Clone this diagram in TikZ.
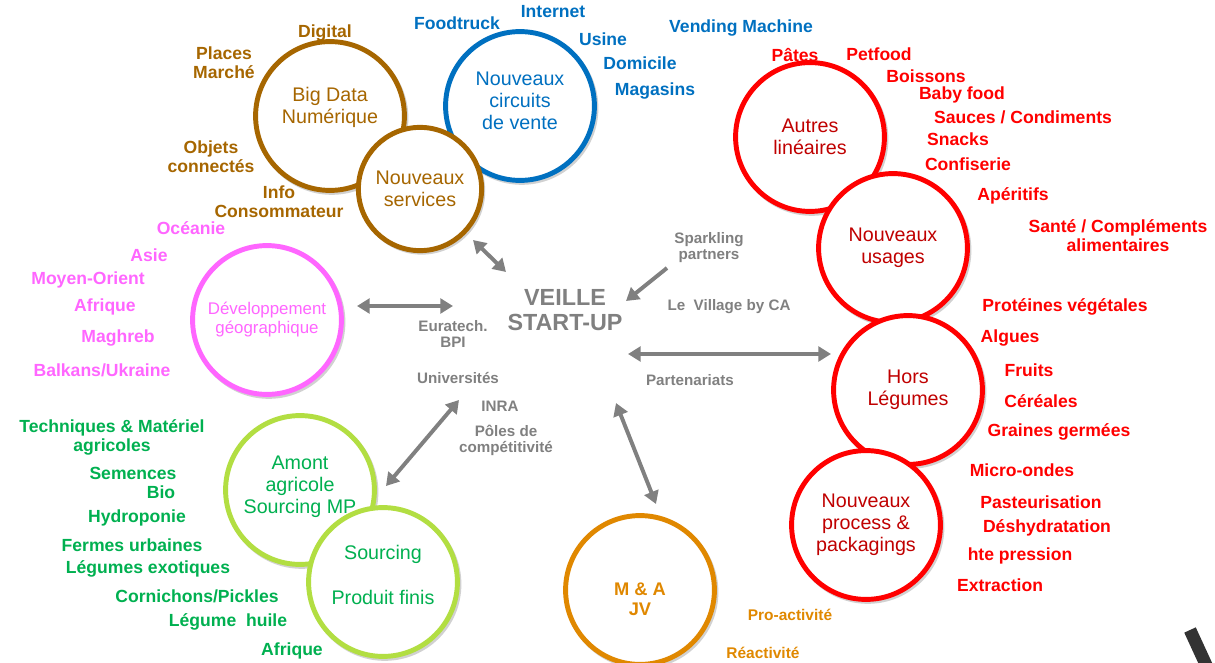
\documentclass[tikz,border=0pt]{standalone}
\usepackage{fontspec}
\setmainfont{Liberation Sans}
\usetikzlibrary{arrows.meta,shadows}
\definecolor{vbrown}{RGB}{166,102,0}
\definecolor{vblue}{RGB}{0,112,192}
\definecolor{vred}{RGB}{255,0,0}
\definecolor{vdarkred}{RGB}{192,0,0}
\definecolor{vpink}{RGB}{255,102,255}
\definecolor{vlime}{RGB}{178,222,66}
\definecolor{vgreen}{RGB}{0,176,80}
\definecolor{vorange}{RGB}{224,136,0}
\definecolor{vgray}{RGB}{128,128,128}
\tikzset{
  bubble/.style={circle, line width=3.5pt, fill=white, minimum size=3.72cm, inner sep=0pt, align=center,
    font=\fontsize{14}{15.6}\selectfont,
    drop shadow={shadow scale=1.03, shadow xshift=1.2pt, shadow yshift=-1.5pt, opacity=.3, fill=black!60}},
  tag/.style={font=\bfseries\fontsize{12.5}{13.5}\selectfont, align=center, inner sep=0pt},
  tagbrown/.style={tag, text=vbrown},
  tagblue/.style={tag, text=vblue},
  tagred/.style={tag, text=vred},
  tagpink/.style={tag, text=vpink},
  taggreen/.style={tag, text=vgreen},
  tagorange/.style={font=\bfseries\fontsize{11}{12}\selectfont, text=vorange, inner sep=0pt},
  note/.style={font=\bfseries\fontsize{10.8}{11.4}\selectfont, text=vgray, align=center, inner sep=0pt},
  arr/.style={{Triangle[length=9pt,width=10.5pt]}-{Triangle[length=9pt,width=10.5pt]}, vgray, line width=2.8pt},
  arrs/.style={-{Triangle[length=9pt,width=10.5pt]}, vgray, line width=2.8pt},
}

\begin{document}
\begin{tikzpicture}[x=0.025cm, y=-0.025cm]
  \useasboundingbox (0,0) rectangle (1215,663);

  % circles
  \node[bubble, draw=vbrown, text=vbrown] (bigdata) at (330,116) {Big Data\\Numérique\\\mbox{}};
  \node[bubble, draw=vblue, text=vblue] (circuits) at (520,106) {Nouveaux\\circuits\\de vente\\[-8pt]\mbox{}};
  \node[bubble, draw=vbrown, text=vbrown, minimum size=3.08cm] (services) at (420,189) {Nouveaux\\services};
  \node[bubble, draw=vred, text=vdarkred] (autres) at (810,137) {Autres\\linéaires};
  \node[bubble, draw=vred, text=vdarkred] (usages) at (893,248) {Nouveaux\\usages};
  \node[bubble, draw=vred, text=vdarkred] (hors) at (908,390) {Hors\\Légumes};
  \node[bubble, draw=vred, text=vdarkred] (process) at (866,525) {Nouveaux\\process \&\\packagings};
  \node[bubble, draw=vorange, text=vorange, font=\bfseries\fontsize{13}{14.2}\selectfont] (mna) at (640,590) {\mbox{}\\[8pt]M \& A\\JV};
  \node[bubble, draw=vpink, text=vpink, font=\fontsize{12}{13.5}\selectfont] (dev) at (267,320) {Développement\\géographique};
  \node[bubble, draw=vlime, text=vgreen] (amont) at (300,490) {Amont\\agricole\\Sourcing MP\\[-8.6pt]\mbox{}};
  \node[bubble, draw=vlime, text=vgreen] (sourcing) at (383,582) {Sourcing\\[16.4pt]Produit finis\\[-5.6pt]\mbox{}};

  % centre
  \node[note, font=\bfseries\fontsize{16.6}{17.8}\selectfont] (veille) at (565,310) {VEILLE\\START-UP};
  \node[note] (sparkling) at (709,248) {Sparkling\\partners};
  \node[note] (village) at (729,307) {Le\ \ Village by CA};
  \node[note] (euratech) at (453,334) {Euratech.\\BPI};
  \node[note] (univ) at (458,378) {Universités};
  \node[note] (inra) at (500,406) {INRA};
  \node[note] (poles) at (506,440) {Pôles de\\compétitivité};
  \node[note] (partenariats) at (690,380) {Partenariats};

  % brown labels
  \node[tagbrown] (digital) at (325,33) {Digital};
  \node[tagbrown] (places) at (224,63) {Places\\Marché};
  \node[tagbrown] (objets) at (211,157) {Objets\\connectés};
  \node[tagbrown] (info) at (279,202) {Info\\Consommateur};

  % blue labels
  \node[tagblue] (foodtruck) at (457,23) {Foodtruck};
  \node[tagblue] (internet) at (553,12) {Internet};
  \node[tagblue] (usine) at (603,39) {Usine};
  \node[tagblue] (domicile) at (640,63) {Domicile};
  \node[tagblue] (magasins) at (655,91) {Magasins};
  \node[tagblue] (vending) at (741,28) {Vending Machine};

  % red labels
  \node[tagred] (pates) at (795,55) {Pâtes};
  \node[tagred] (petfood) at (879,54) {Petfood};
  \node[tagred] (boissons) at (926,76) {Boissons};
  \node[tagred] (baby) at (962,95) {Baby food};
  \node[tagred] (sauces) at (1023,117) {Sauces / Condiments};
  \node[tagred] (snacks) at (958,139) {Snacks};
  \node[tagred] (confiserie) at (968,164) {Confiserie};
  \node[tagred] (aperitifs) at (1013,196) {Apéritifs};
  \node[tagred] (sante) at (1118,236) {Santé / Compléments\\alimentaires};
  \node[tagred] (proteines) at (1065,307) {Protéines végétales};
  \node[tagred] (algues) at (1010,338) {Algues};
  \node[tagred] (fruits) at (1029,370) {Fruits};
  \node[tagred] (cereales) at (1041,401) {Céréales};
  \node[tagred] (graines) at (1059,432) {Graines germées};
  \node[tagred] (micro) at (1022,470) {Micro-ondes};
  \node[tagred] (pasteur) at (1041,502) {Pasteurisation};
  \node[tagred] (deshyd) at (1047,528) {Déshydratation};
  \node[tagred] (hte) at (1020,556) {hte pression};
  \node[tagred] (extraction) at (1000,585) {Extraction};

  % pink labels
  \node[tagpink] (oceanie) at (191,228) {Océanie};
  \node[tagpink] (asie) at (149,255) {Asie};
  \node[tagpink] (moyen) at (88,280) {Moyen-Orient};
  \node[tagpink] (afriqueA) at (105,307) {Afrique};
  \node[tagpink] (maghreb) at (118,338) {Maghreb};
  \node[tagpink] (balkans) at (102,370) {Balkans/Ukraine};

  % green labels
  \node[taggreen] (techniques) at (112,437) {Techniques \& Matériel\\agricoles};
  \node[taggreen] (semences) at (133,473) {Semences};
  \node[taggreen] (bio) at (161,492) {Bio};
  \node[taggreen] (hydro) at (137,518) {Hydroponie};
  \node[taggreen] (fermes) at (132,545) {Fermes urbaines};
  \node[taggreen] (exotiques) at (148,569) {Légumes exotiques};
  \node[taggreen] (cornichons) at (197,596) {Cornichons/Pickles};
  \node[taggreen] (huile) at (228,622) {Légume\ \ huile};
  \node[taggreen] (afriqueB) at (292,651) {Afrique};

  % orange labels
  \node[tagorange] (proact) at (790,615) {Pro-activité};
  \node[tagorange] (react) at (763,653) {Réactivité};

  % arrows
  \coordinate (servicesA) at (473,240);
  \coordinate (veilleA) at (506,272);
  \coordinate (devA) at (357,306);
  \coordinate (veilleB) at (453,306);
  \coordinate (sparklingA) at (667,268);
  \coordinate (veilleC) at (626,301);
  \coordinate (veilleD) at (628,354);
  \coordinate (horsA) at (831,354);
  \coordinate (amontA) at (386,486);
  \coordinate (univA) at (459,400);
  \coordinate (veilleE) at (616,403);
  \coordinate (mnaA) at (656,504);
  \draw[arr] (servicesA) -- (veilleA);
  \draw[arr] (devA) -- (veilleB);
  \draw[arrs] (sparklingA) -- (veilleC);
  \draw[arr] (veilleD) -- (horsA);
  \draw[arr] (amontA) -- (univA);
  \draw[arr] (veilleE) -- (mnaA);

  % corner mark
  \draw[line width=9pt, black!80] (1190,630) -- (1213,680);
\end{tikzpicture}
\end{document}
